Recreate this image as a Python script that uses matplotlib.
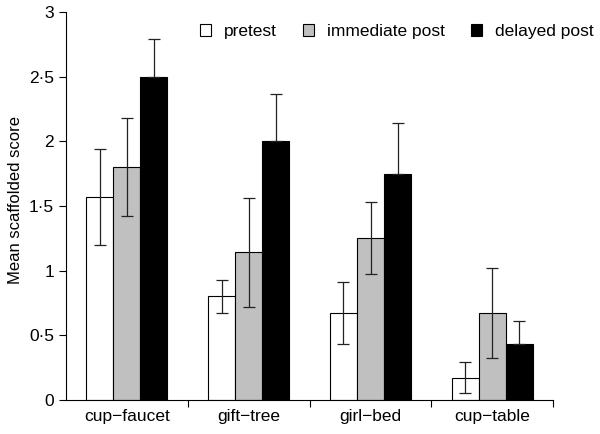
import numpy as np
import matplotlib
matplotlib.use("Agg")
import matplotlib.pyplot as plt
from matplotlib.ticker import FuncFormatter

plt.rcParams["font.family"] = ["Liberation Sans", "DejaVu Sans"]

# Data
pairs = ["cup\u2212faucet", "gift\u2212tree", "girl\u2212bed", "cup\u2212table"]
conditions = ["pretest", "immediate post", "delayed post"]
pretest = [1.57, 0.80, 0.67, 0.17]
immediate = [1.80, 1.14, 1.25, 0.67]
delayed = [2.50, 2.00, 1.75, 0.43]
pretest_err = [0.37, 0.13, 0.24, 0.12]
immediate_err = [0.38, 0.42, 0.28, 0.35]
delayed_err = [0.29, 0.37, 0.39, 0.18]

colors = ["white", "#c0c0c0", "black"]

fig = plt.figure(figsize=(6, 4.34), dpi=100)
ax = fig.add_axes([0.11, 0.079, 0.812, 0.893])

x = np.arange(len(pairs))
width = 0.222
series = [pretest, immediate, delayed]
errs = [pretest_err, immediate_err, delayed_err]
for i, (vals, err) in enumerate(zip(series, errs)):
    ax.bar(x + (i - 1) * width, vals, width, color=colors[i], edgecolor="black",
           linewidth=0.8, label=conditions[i], zorder=2)
    # delayed post bars only show the upper half of the error bar
    yerr = [np.zeros(len(err)), err] if i == 2 else err
    ax.errorbar(x + (i - 1) * width, vals, yerr=yerr, fmt="none", ecolor="#222222",
                elinewidth=0.9, capsize=4, capthick=0.9, zorder=3)

ax.set_xlim(-0.5, 3.5)
ax.set_ylim(0, 3)
ax.set_yticks(np.arange(0, 3.01, 0.5))
ax.yaxis.set_major_formatter(FuncFormatter(lambda v, p: f"{v:g}".replace(".", "\u00b7")))
ax.set_xticks(x)
ax.set_xticklabels(pairs)
ax.set_xticks([0.5, 1.5, 2.5, 3.5], minor=True)
ax.tick_params(axis="x", which="major", length=0, labelsize=12.5, pad=7)
ax.tick_params(axis="x", which="minor", length=5, width=0.8, direction="out")
ax.tick_params(axis="y", length=5, width=0.8, labelsize=12.5)
ax.spines["top"].set_visible(False)
ax.spines["right"].set_visible(False)
ax.spines["left"].set_linewidth(0.8)
ax.spines["bottom"].set_linewidth(0.8)
ax.set_ylabel("Mean scaffolded score", fontsize=12)
ax.yaxis.set_label_coords(-0.088, 0.515)

fig.legend(loc="center right", bbox_to_anchor=(0.99, 0.927), ncol=3, frameon=False,
           fontsize=12.5, handlelength=0.65, handleheight=0.65, columnspacing=1.5,
           handletextpad=0.75, borderaxespad=0, borderpad=0)

fig.savefig("out.png", dpi=100)
